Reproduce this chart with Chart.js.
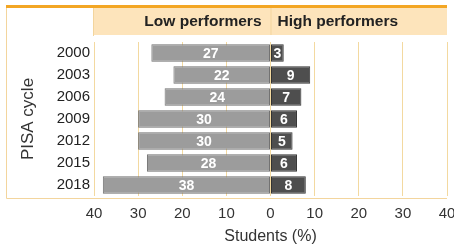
<!DOCTYPE html>
<html>
<head>
<meta charset="utf-8">
<script src="https://cdn.jsdelivr.net/npm/chart.js@4"></script>
<style>
  body { margin: 0; background: #fff; }
  #wrap { width: 454px; height: 250px; }
</style>
</head>
<body>
<div id="wrap"><canvas id="chart" width="454" height="250"></canvas></div>
<script>
const cycles = ['2000', '2003', '2006', '2009', '2012', '2015', '2018'];
const lowPerformers = [27, 22, 24, 30, 30, 28, 38];
const highPerformers = [3, 9, 7, 6, 5, 6, 8];
const xTicks = [-40, -30, -20, -10, 0, 10, 20, 30, 40];
const headerLabels = ['Low performers', 'High performers'];

const FONT = '"Liberation Sans", Arial, sans-serif';
const gridColor = '#f3d9a0';

// header band + frame
const framePlugin = {
    id: 'frame',
    beforeDraw(chart) {
        const { ctx, chartArea, scales } = chart;
        const x = scales.x;
        const left = x.getPixelForValue(-40);
        const right = x.getPixelForValue(40);
        const mid = x.getPixelForValue(0);
        ctx.save();
        ctx.fillStyle = '#fde4bb';
        ctx.fillRect(left, 8, right - left, 27);
        ctx.strokeStyle = '#f3d59d';
        ctx.lineWidth = 1;
        ctx.beginPath();
        ctx.moveTo(6.5, 8);
        ctx.lineTo(6.5, chartArea.bottom + 2.5);
        ctx.lineTo(right, chartArea.bottom + 2.5);
        ctx.moveTo(mid + 0.5, 8);
        ctx.lineTo(mid + 0.5, 35);
        ctx.moveTo(left - 0.5, 8);
        ctx.lineTo(left - 0.5, 36);
        ctx.stroke();
        ctx.fillStyle = '#f3a624';
        ctx.fillRect(6, 5, right - 6, 3);
        ctx.fillStyle = '#222';
        ctx.font = 'bold 15.5px ' + FONT;
        ctx.textBaseline = 'middle';
        ctx.textAlign = 'right';
        ctx.fillText(headerLabels[0], mid - 9, 22);
        ctx.textAlign = 'left';
        ctx.fillText(headerLabels[1], mid + 7, 22);
        ctx.restore();
    }
};

// values inside the bars
const valueLabels = {
    id: 'valueLabels',
    afterDatasetsDraw(chart) {
        const { ctx } = chart;
        ctx.save();
        ctx.fillStyle = '#fff';
        ctx.font = 'bold 14px ' + FONT;
        ctx.textAlign = 'center';
        ctx.textBaseline = 'middle';
        chart.data.datasets.forEach((ds, i) => {
            chart.getDatasetMeta(i).data.forEach((bar, j) => {
                const v = Math.abs(ds.data[j]);
                ctx.fillText(v, (bar.x + bar.base) / 2, bar.y + 1);
            });
        });
        ctx.restore();
    }
};

new Chart(document.getElementById('chart'), {
    type: 'bar',
    data: {
        labels: cycles,
        datasets: [
            {
                label: 'Low performers',
                data: lowPerformers.map(v => -v),
                backgroundColor: '#9c9c9c',
                borderColor: '#727272',
                borderWidth: 1,
                borderSkipped: false,
                barPercentage: 0.8,
                categoryPercentage: 1
            },
            {
                label: 'High performers',
                data: highPerformers,
                backgroundColor: '#4e4e4e',
                borderColor: '#333',
                borderWidth: 1,
                borderSkipped: false,
                barPercentage: 0.8,
                categoryPercentage: 1
            }
        ]
    },
    options: {
        indexAxis: 'y',
        responsive: false,
        animation: false,
        layout: { padding: { top: 42, right: 7, left: 0, bottom: 0 } },
        plugins: {
            legend: { display: false },
            tooltip: { enabled: false }
        },
        scales: {
            x: {
                stacked: true,
                min: -40,
                max: 40,
                afterBuildTicks: s => { s.ticks = xTicks.map(v => ({ value: v })); },
                afterFit: s => { s.height = 54; s.paddingLeft = 0; s.paddingRight = 0; },
                grid: { color: gridColor, drawTicks: false },
                border: { display: false },
                ticks: {
                    padding: 9,
                    color: '#333',
                    font: { family: FONT, size: 15 },
                    callback: v => Math.abs(v)
                },
                title: {
                    display: true,
                    text: 'Students (%)',
                    color: '#333',
                    font: { family: FONT, size: 16 },
                    padding: { top: 3 }
                }
            },
            y: {
                stacked: true,
                afterFit: s => { s.width = 94; },
                grid: { display: false, drawTicks: false },
                border: { display: false },
                ticks: {
                    padding: 4,
                    color: '#222',
                    font: { family: FONT, size: 15 }
                },
                title: {
                    display: true,
                    text: 'PISA cycle',
                    color: '#333',
                    font: { family: FONT, size: 17 },
                    padding: { top: 18, bottom: 0 }
                }
            }
        }
    },
    plugins: [framePlugin, valueLabels]
});
</script>
</body>
</html>
